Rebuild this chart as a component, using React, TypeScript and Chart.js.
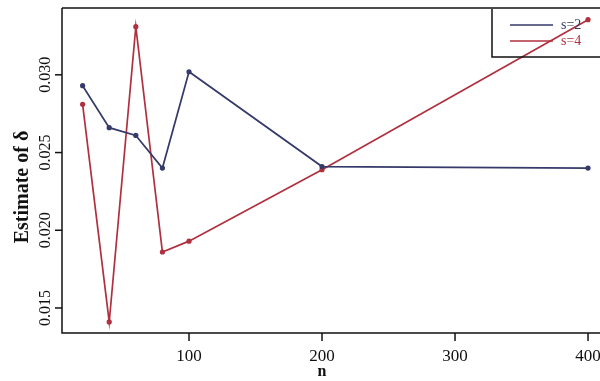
import React, { useEffect, useRef } from "react";
import { Chart, registerables } from "chart.js";

Chart.register(...registerables);

const nValues = [20, 40, 60, 80, 100, 200, 400];
const s2Values = [0.0293, 0.0266, 0.0261, 0.024, 0.0302, 0.0241, 0.024];
const s4Values = [0.0281, 0.0141, 0.0331, 0.0186, 0.0193, 0.0239, 0.03355];
const seriesLabels = ["s=2", "s=4"];
const xTicks = [100, 200, 300, 400];
const yTicks = [0.015, 0.02, 0.025, 0.03];
const yTickLabels = ["0.015", "0.020", "0.025", "0.030"];
const xTitle = "n";
const yTitle = "Estimate of δ";

const BLUE = "#363a6a";
const RED = "#b0303f";
const SERIF = '"Liberation Serif", "DejaVu Serif", serif';

const axesPlugin = {
  id: "rAxes",
  afterDraw(chart: any) {
    const { ctx, chartArea } = chart;
    const { left, top, right, bottom } = chartArea;
    const xs = chart.scales.x;
    const ys = chart.scales.y;
    ctx.save();
    ctx.strokeStyle = "#111";
    ctx.lineWidth = 1.5;
    ctx.beginPath();
    ctx.moveTo(left, top);
    ctx.lineTo(right + 4, top);
    ctx.moveTo(left, top);
    ctx.lineTo(left, bottom);
    ctx.lineTo(right + 4, bottom);
    ctx.stroke();

    // x ticks
    ctx.fillStyle = "#111";
    ctx.font = "17px " + SERIF;
    ctx.textAlign = "center";
    ctx.textBaseline = "middle";
    xTicks.forEach((v) => {
      const px = xs.getPixelForValue(v);
      ctx.beginPath();
      ctx.moveTo(px, bottom);
      ctx.lineTo(px, bottom + 8);
      ctx.stroke();
      ctx.fillText(String(v), px, bottom + 24);
    });
    ctx.font = "bold 16px " + SERIF;
    ctx.fillText(xTitle, xs.getPixelForValue(200), bottom + 39);

    // y ticks
    yTicks.forEach((v, i) => {
      const py = ys.getPixelForValue(v);
      ctx.beginPath();
      ctx.moveTo(left - 7, py);
      ctx.lineTo(left, py);
      ctx.stroke();
      ctx.save();
      ctx.translate(left - 16, py);
      ctx.rotate(-Math.PI / 2);
      ctx.font = "16px " + SERIF;
      ctx.textAlign = "center";
      ctx.textBaseline = "middle";
      ctx.fillText(yTickLabels[i], 0, 0);
      ctx.restore();
    });
    ctx.save();
    ctx.translate(23, 187);
    ctx.rotate(-Math.PI / 2);
    ctx.font = "bold 20px " + SERIF;
    ctx.textAlign = "center";
    ctx.textBaseline = "middle";
    ctx.fillStyle = "#111";
    ctx.fillText(yTitle, 0, 0);
    ctx.restore();

    // legend
    const lx = 492;
    const ly = 9;
    ctx.lineWidth = 1.5;
    ctx.strokeStyle = "#111";
    ctx.beginPath();
    ctx.moveTo(lx, ly);
    ctx.lineTo(lx, 57);
    ctx.lineTo(602, 57);
    ctx.stroke();
    const colors = [BLUE, RED];
    const yPos = [25, 41];
    ctx.font = "14px " + SERIF;
    ctx.textAlign = "left";
    ctx.textBaseline = "middle";
    seriesLabels.forEach((lab, i) => {
      ctx.strokeStyle = colors[i];
      ctx.lineWidth = 1.5;
      ctx.beginPath();
      ctx.moveTo(510, yPos[i]);
      ctx.lineTo(553, yPos[i]);
      ctx.stroke();
      ctx.fillStyle = colors[i];
      ctx.fillText(lab, 561, yPos[i]);
    });
    ctx.restore();
  },
};

export default function App() {
  const ref = useRef<HTMLCanvasElement | null>(null);
  useEffect(() => {
    if (!ref.current) return;
    const mk = (vals: number[]) => nValues.map((n, i) => ({ x: n, y: vals[i] }));
    const chart = new Chart(ref.current, {
      type: "line",
      data: {
        datasets: [
          {
            label: seriesLabels[0],
            data: mk(s2Values),
            borderColor: BLUE,
            backgroundColor: BLUE,
            borderWidth: 1.7,
            pointRadius: 2.6,
            pointBorderWidth: 0,
            tension: 0,
          },
          {
            label: seriesLabels[1],
            data: mk(s4Values),
            borderColor: RED,
            backgroundColor: RED,
            borderWidth: 1.7,
            pointRadius: 2.6,
            pointBorderWidth: 0,
            tension: 0,
          },
        ],
      },
      options: {
        responsive: false,
        animation: false,
        layout: { autoPadding: false, padding: { top: 8, left: 0, right: 0, bottom: 0 } },
        plugins: { legend: { display: false }, tooltip: { enabled: false } },
        scales: {
          x: {
            type: "linear",
            min: 4.5,
            max: 409,
            grid: { display: false },
            border: { display: false },
            ticks: { display: false },
            afterFit: (s: any) => {
              s.height = 48;
              s.paddingLeft = 0;
              s.paddingRight = 0;
            },
          },
          y: {
            type: "linear",
            min: 0.01339,
            max: 0.0343,
            grid: { display: false },
            border: { display: false },
            ticks: { display: false },
            afterFit: (s: any) => {
              s.width = 62;
            },
          },
        },
      },
      plugins: [axesPlugin],
    });
    return () => chart.destroy();
  }, []);
  return (
    <div style={{ position: "fixed", left: 0, top: 0, width: 600, height: 381, background: "#fff" }}>
      <canvas ref={ref} width={600} height={381} style={{ display: "block" }} />
    </div>
  );
}
